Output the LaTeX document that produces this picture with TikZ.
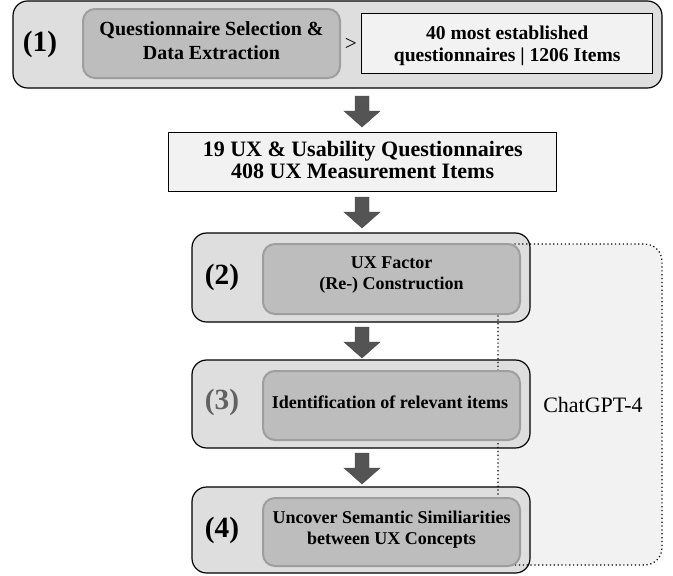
\documentclass[tikz,border=0pt]{standalone}
\usepackage{fontspec}
\setmainfont{Liberation Serif}
\begin{document}
\begin{tikzpicture}[x=0.75pt,y=-0.75pt,
  outerbox/.style={draw=black,line width=0.9pt,fill=black!13,rounded corners=11pt},
  innerbox/.style={draw=black!38,line width=1.5pt,fill=black!26,rounded corners=9pt},
  whitebox/.style={draw=black,line width=1pt,fill=black!5},
  lbl/.style={font=\bfseries\fontsize{13.5}{16}\selectfont,align=center},
  num/.style={font=\bfseries\fontsize{22}{24}\selectfont},
  arr/.style={fill=black!67,draw=black!72,line width=0.3pt}]
\useasboundingbox (0,0) rectangle (673,575);
% ChatGPT region background
\fill[black!5,rounded corners=13pt] (498,244) rectangle (662,565);
% box 1
\draw[outerbox] (13,1) rectangle (662,88);
\node[innerbox,minimum width=257*0.75pt,minimum height=69*0.75pt,anchor=north west] (q) at (82,8) {};
\node[lbl,font=\bfseries\fontsize{15}{18}\selectfont] (qt) at ([yshift=2.5pt]q.center) {Questionnaire Selection \&\\Data Extraction};
\node[whitebox,minimum width=291*0.75pt,minimum height=60*0.75pt,anchor=north west] (w) at (361,13) {};
\node[lbl,font=\bfseries\fontsize{14.7}{17}\selectfont] (wt) at ([yshift=-1.5pt]w.center) {40 most established\\questionnaires | 1206 Items};
\node[font=\fontsize{16}{18}\selectfont] (gt) at (351,44) {>};
\node[num] (n1) at (40,44) {(1)};
% box 19
\node[whitebox,minimum width=388*0.75pt,minimum height=59*0.75pt,anchor=north west] (b19) at (168,132) {};
\node[lbl,font=\bfseries\fontsize{16.5}{16.5}\selectfont] (bt) at ([yshift=1.5pt]b19.center) {19 UX \& Usability Questionnaires\\408 UX Measurement Items};
% boxes 2-4 outer
\draw[outerbox] (192,233) rectangle (530,322);
\draw[outerbox] (192,360) rectangle (530,448);
\draw[outerbox] (192,487) rectangle (530,573);
% dotted region border
\draw[draw=black,line width=0.9pt,dotted,rounded corners=13pt] (498,244) rectangle (662,565);
% inner boxes
\node[innerbox,minimum width=257*0.75pt,minimum height=70*0.75pt,anchor=north west] (s2) at (262,243) {};
\node[lbl] (t2) at ([yshift=3pt]s2.center) {UX Factor\\(Re-) Construction};
\node[innerbox,minimum width=257*0.75pt,minimum height=69*0.75pt,anchor=north west] (s3) at (262,370) {};
\node[lbl] (t3) at (390,402) {Identification of relevant items};
\node[innerbox,minimum width=257*0.75pt,minimum height=68*0.75pt,anchor=north west] (s4) at (262,497) {};
\node[lbl] (t4) at ([yshift=2pt]s4.center) {Uncover Semantic Similiarities\\between UX Concepts};
\node[num] (n2) at (222,277) {(2)};
\node[num,text=black!62] (n3) at (222,402) {(3)};
\node[num] (n4) at (222,530) {(4)};
\node[font=\fontsize{16.5}{18}\selectfont] (gpt) at (593,405) {ChatGPT-4};
% arrows
\foreach \t in {96,197,327,453}{
  \draw[arr] (355,\t) -- (369,\t) -- (369,\t+15) -- (380,\t+15) -- (362,\t+31) -- (344,\t+15) -- (355,\t+15) -- cycle;
}
\end{tikzpicture}
\end{document}
